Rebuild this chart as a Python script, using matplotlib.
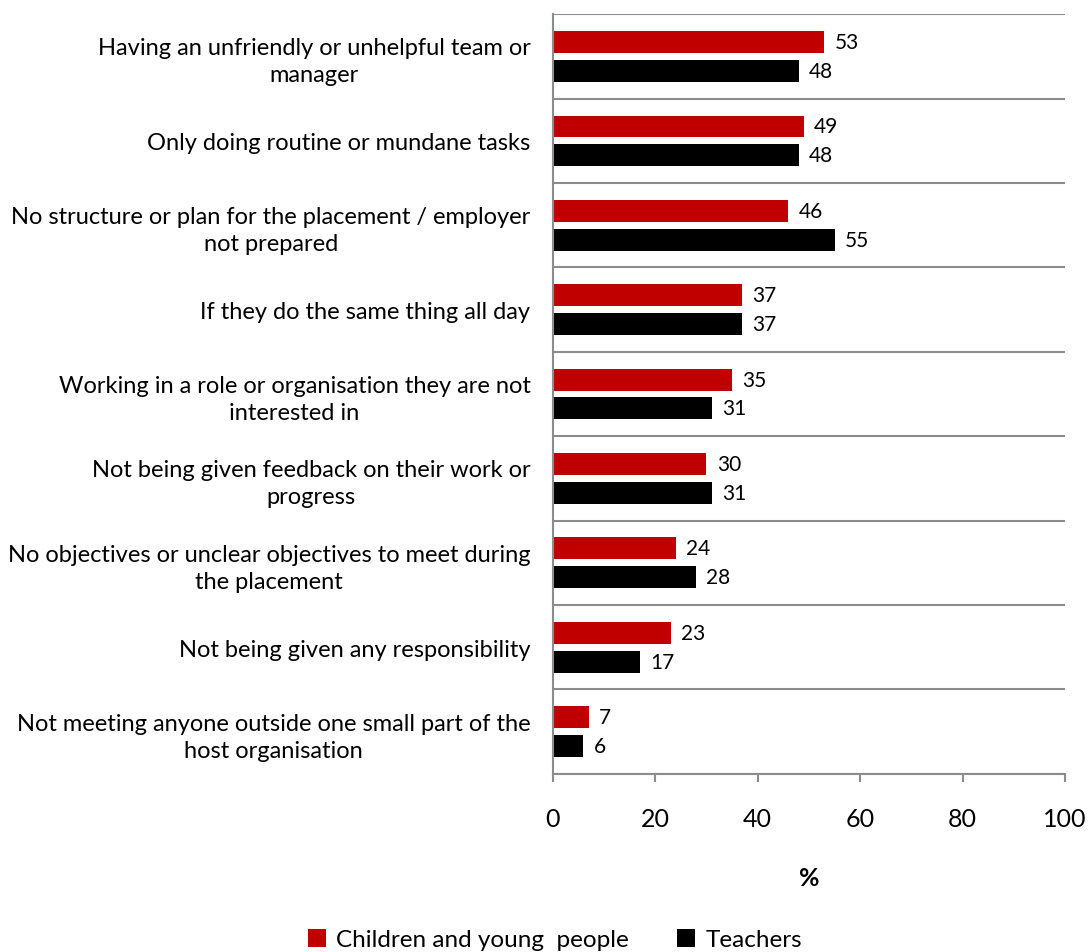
import numpy as np
import matplotlib.pyplot as plt

plt.rcParams['font.family'] = ['Lato', 'DejaVu Sans']

categories = [
    "Having an unfriendly or unhelpful team or\nmanager",
    "Only doing routine or mundane tasks",
    "No structure or plan for the placement / employer\nnot prepared",
    "If they do the same thing all day",
    "Working in a role or organisation they are not\ninterested in",
    "Not being given feedback on their work or\nprogress",
    "No objectives or unclear objectives to meet during\nthe placement",
    "Not being given any responsibility",
    "Not meeting anyone outside one small part of the\nhost organisation",
]
young = [53, 49, 46, 37, 35, 30, 24, 23, 7]
teachers = [48, 48, 55, 37, 31, 31, 28, 17, 6]

red = '#c00000'
grid = '#8c8c8c'

fig = plt.figure(figsize=(10.88, 9.53), dpi=100)
ax = fig.add_axes([0.508, 0.187, 0.471, 0.797])

n = len(categories)
pos = np.arange(n)
h = 0.26
off = 0.17

b1 = ax.barh(pos - off, young, h, color=red, label='Children and young  people')
b2 = ax.barh(pos + off, teachers, h, color='black', label='Teachers')

for v, p in zip(young, pos - off):
    ax.text(v + 2, p, str(v), va='center', ha='left', fontsize=15)
for v, p in zip(teachers, pos + off):
    ax.text(v + 2, p, str(v), va='center', ha='left', fontsize=15)

ax.set_ylim(n - 0.5, -0.5)
ax.set_xlim(0, 100)

# separators between category groups
for b in np.arange(n + 1) - 0.5:
    ax.axhline(b, color=grid, lw=1.5, zorder=0)

ax.set_yticks(pos)
ax.set_yticklabels(categories, fontsize=17, multialignment='center',
                   linespacing=1.35)
ax.tick_params(axis='y', length=0, pad=16)
ax.set_xticks(np.arange(0, 101, 20))
ax.tick_params(axis='x', labelsize=18, length=6, color=grid, width=1.5, pad=18)

for s in ['top', 'right']:
    ax.spines[s].set_visible(False)
for s in ['left', 'bottom']:
    ax.spines[s].set_color(grid)
    ax.spines[s].set_linewidth(1.5)

ax.set_xlabel('%', fontsize=18, fontweight='bold', labelpad=26)

fig.legend(handles=[b1, b2], loc='center', bbox_to_anchor=(0.51, 0.013),
           ncol=2, frameon=False, fontsize=17.5, handlelength=0.75,
           handleheight=0.75, handletextpad=0.4, columnspacing=2.0)

fig.savefig('out.png', dpi=100)
